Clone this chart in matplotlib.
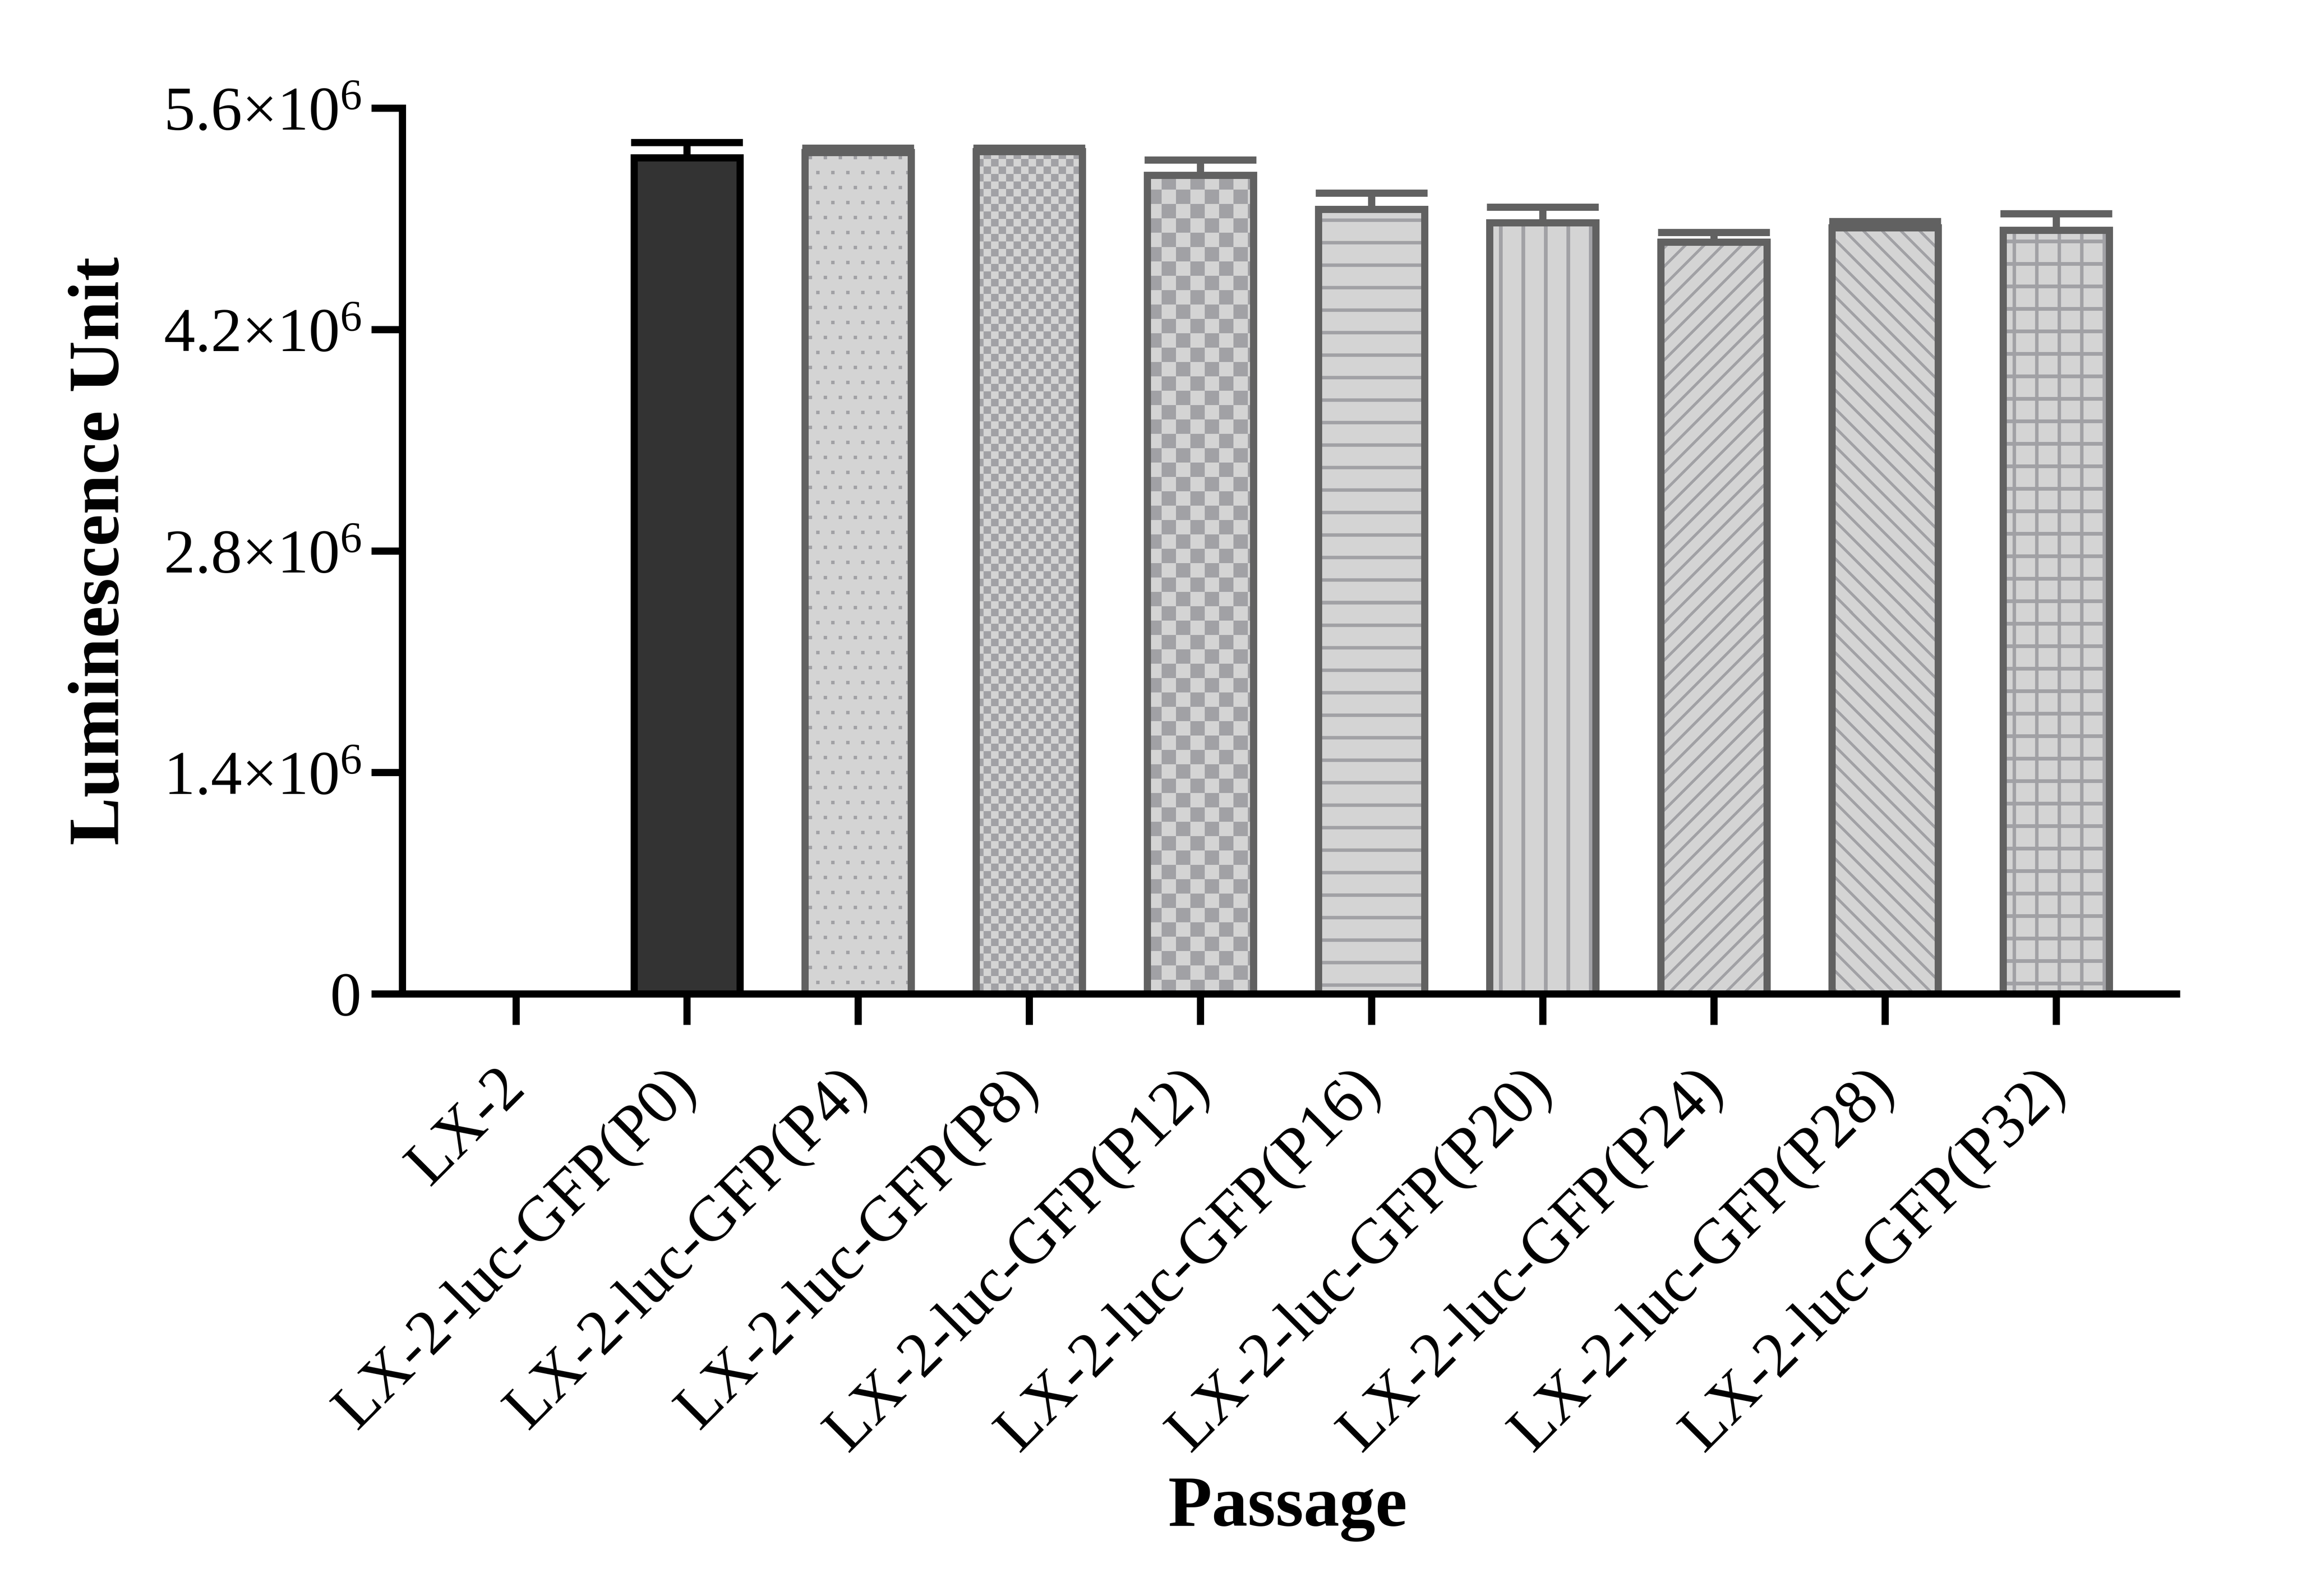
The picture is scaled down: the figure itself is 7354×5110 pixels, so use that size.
import numpy as np
import matplotlib
matplotlib.use("Agg")
import matplotlib.pyplot as plt
from matplotlib.colors import to_rgba

# ---------------- data ----------------
categories = ["LX-2", "LX-2-luc-GFP(P0)", "LX-2-luc-GFP(P4)", "LX-2-luc-GFP(P8)",
              "LX-2-luc-GFP(P12)", "LX-2-luc-GFP(P16)", "LX-2-luc-GFP(P20)",
              "LX-2-luc-GFP(P24)", "LX-2-luc-GFP(P28)", "LX-2-luc-GFP(P32)"]
means = [0.0, 5.286e6, 5.320e6, 5.325e6, 5.175e6, 4.961e6, 4.875e6, 4.753e6, 4.844e6, 4.827e6]
sd = [0.0, 0.097e6, 0.027e6, 0.022e6, 0.098e6, 0.102e6, 0.099e6, 0.061e6, 0.039e6, 0.106e6]
ytick_values = [0, 1.4e6, 2.8e6, 4.2e6, 5.6e6]
ytick_labels = ["0", "1.4×10$^{6}$", "2.8×10$^{6}$", "4.2×10$^{6}$", "5.6×10$^{6}$"]
xlabel = "Passage"
ylabel = "Luminescence Unit"
patterns = [None, None, "dots", "checker_fine", "checker_coarse",
            "hlines", "vlines", "diag_up", "diag_down", "grid"]

# ---------------- style ----------------
DPI = 430
plt.rcParams["font.family"] = ["Liberation Serif", "DejaVu Serif"]
plt.rcParams["mathtext.fontset"] = "custom"
plt.rcParams["mathtext.rm"] = "Liberation Serif"
plt.rcParams["mathtext.it"] = "Liberation Serif:italic"
plt.rcParams["mathtext.bf"] = "Liberation Serif:bold"

LW = 3.85
FILL_LIGHT = "#d4d4d4"
EDGE_GRAY = "#616161"
HATCH = "#a1a1a5"
fills = ["#333333" if i == 1 else FILL_LIGHT for i in range(len(categories))]
edges = ["#000000" if i == 1 else EDGE_GRAY for i in range(len(categories))]

fig = plt.figure(figsize=(7354 / DPI, 5110 / DPI), dpi=DPI)
ax = fig.add_axes([0.1751, 0.3773, 0.7724, 0.5550])

x = np.arange(len(categories))
XLIM = (-0.664, 9.703)
YLIM = (0, 5.6e6)
BW = 0.62

base = ax.bar(x, means, width=BW, color=fills, linewidth=0, zorder=1)
outline = ax.bar(x, means, width=BW, fill=False, edgecolor=edges, linewidth=LW, zorder=2)

ax.set_xlim(*XLIM)
ax.set_ylim(*YLIM)


def stripe(coord, period, width):
    d = np.abs((coord % period) - period / 2.0)
    return np.clip(width / 2.0 + 0.5 - d, 0.0, 1.0)


def make_pattern(kind, W, H):
    rows, cols = np.mgrid[0:H, 0:W]
    r = rows + 0.5
    c = cols + 0.5
    s2 = np.sqrt(2.0)
    if kind == "checker_fine":
        alpha = (((rows // 24 + cols // 24) % 2) == 1).astype(float)
    elif kind == "checker_coarse":
        alpha = (((rows // 46 + cols // 46) % 2) == 1).astype(float)
    elif kind == "dots":
        sp, sz = 48, 11
        i = rows // sp
        yy = rows % sp
        off = (i % 2) * (sp // 2)
        xx = (cols - off - 12) % sp
        alpha = ((yy >= 12) & (yy < 12 + sz) & (xx < sz)).astype(float)
    elif kind == "hlines":
        alpha = stripe(r, 72, 11)
    elif kind == "vlines":
        alpha = stripe(c, 72, 12)
    elif kind == "diag_up":
        alpha = stripe((r + c) / s2, 60 / s2, 9)
    elif kind == "diag_down":
        alpha = stripe((r - c) / s2, 60 / s2, 9)
    else:  # grid
        alpha = np.maximum(stripe(r, 72, 12), stripe(c, 72, 11))
    img = np.zeros((H, W, 4))
    img[..., :3] = to_rgba(HATCH)[:3]
    img[..., 3] = alpha
    return img


for bar, pat in zip(base, patterns):
    if pat is not None and bar.get_height() > 0:
        x0, y0, w, h = bar.get_x(), bar.get_y(), bar.get_width(), bar.get_height()
        (px0, py0), (px1, py1) = ax.transData.transform([(x0, y0), (x0 + w, y0 + h)])
        W = int(round(px1 - px0))
        H = int(round(py1 - py0))
        img = make_pattern(pat, W, H)
        im = ax.imshow(img, extent=(x0, x0 + w, y0, y0 + h), origin="upper",
                       interpolation="nearest", aspect="auto", zorder=1.5)
        im.set_clip_path(bar)

for i in range(len(x)):
    if sd[i] > 0:
        ax.errorbar(x[i], means[i], yerr=[[0], [sd[i]]], fmt="none", ecolor=edges[i],
                    elinewidth=LW, capsize=30, capthick=LW, zorder=3)

ax.set_xlim(*XLIM)
ax.set_ylim(*YLIM)
ax.set_aspect("auto")

for s in ("top", "right"):
    ax.spines[s].set_visible(False)
for s in ("left", "bottom"):
    ax.spines[s].set_linewidth(LW)
    ax.spines[s].set_color("black")
    ax.spines[s].set_zorder(2.5)

ax.set_yticks(ytick_values)
ax.set_yticklabels(ytick_labels, fontsize=33.5)
ax.set_xticks(x)
ax.set_xticklabels(categories, fontsize=34, rotation=45, ha="right", va="center",
                   rotation_mode="anchor")
ax.tick_params(axis="both", direction="out", width=LW, length=16.5, color="black")
ax.tick_params(axis="y", pad=5.5)
ax.tick_params(axis="x", pad=29)

fig.text(379 / 7354, 1 - 1764 / 5110, ylabel, rotation=90, ha="center", va="baseline",
         rotation_mode="anchor", fontsize=38.5, fontweight="bold")
fig.text(4122 / 7354, 1 - 4885 / 5110, xlabel, ha="center", va="baseline",
         fontsize=38.5, fontweight="bold")

fig.savefig("out.png", dpi=DPI)
